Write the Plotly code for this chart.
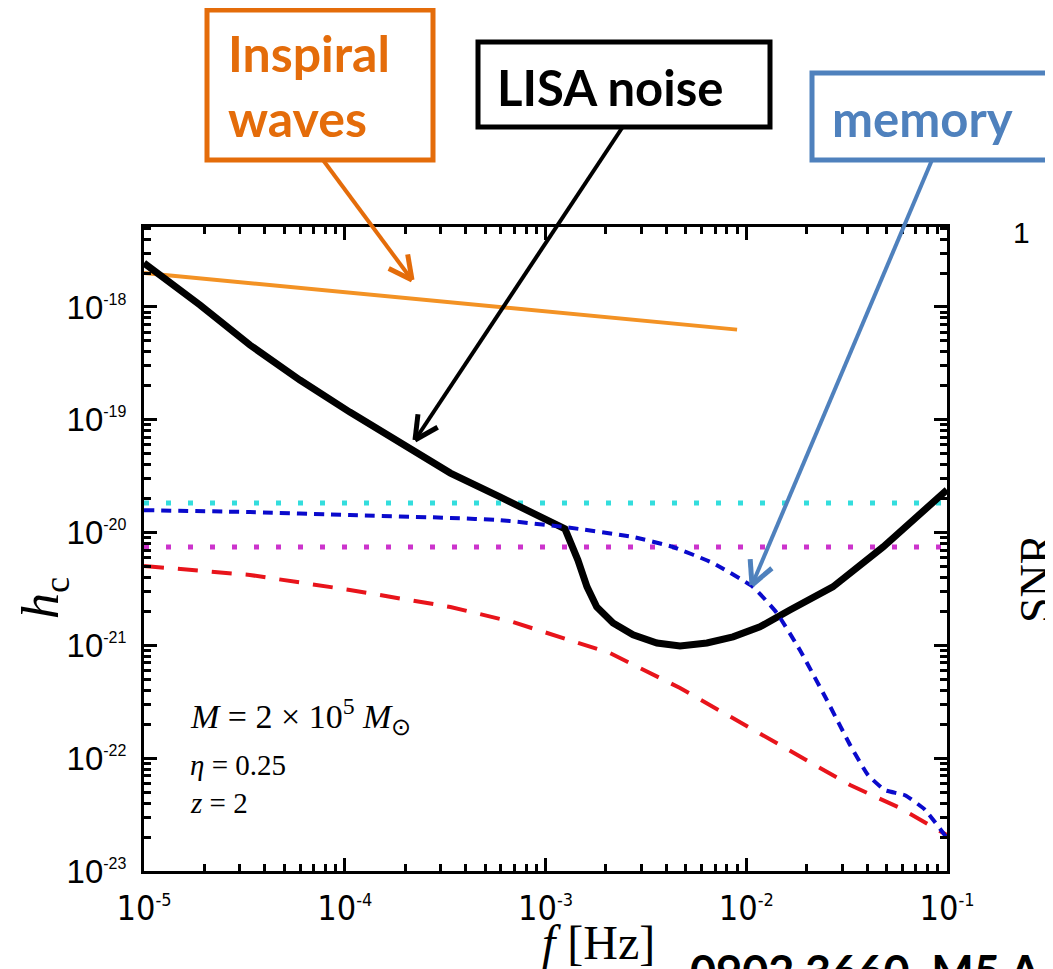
import math
import plotly.graph_objects as go

# ---------------- data ----------------
inspiral_f = [1e-5, 9e-3]
inspiral_hc = [2.0e-18, 6.3e-19]

noise_f = [1e-5, 1.90e-5, 3.37e-5, 5.98e-5, 1.06e-4, 1.88e-4, 3.36e-4, 5.93e-4, 1.25e-3,
           1.45e-3, 1.61e-3, 1.80e-3, 2.17e-3, 2.73e-3, 3.59e-3, 4.68e-3, 6.37e-3, 8.59e-3,
           1.17e-2, 1.65e-2, 2.70e-2, 4.80e-2, 0.1]
noise_hc = [2.45e-18, 1.04e-18, 4.60e-19, 2.25e-19, 1.17e-19, 6.22e-20, 3.37e-20, 2.07e-20, 1.08e-20,
            5.71e-21, 3.30e-21, 2.19e-21, 1.58e-21, 1.24e-21, 1.05e-21, 9.9e-22, 1.05e-21, 1.19e-21,
            1.46e-21, 2.06e-21, 3.30e-21, 7.45e-21, 2.39e-20]

memory_f = [1e-5, 3.37e-5, 1.06e-4, 3.36e-4, 5.93e-4, 1.25e-3, 2.73e-3, 4.32e-3, 6.82e-3, 1.08e-2,
            1.42e-2, 1.85e-2, 2.52e-2, 3.29e-2, 4.04e-2, 4.91e-2, 6.18e-2, 7.76e-2, 0.1]
memory_hc = [1.58e-20, 1.52e-20, 1.43e-20, 1.35e-20, 1.29e-20, 1.12e-20, 9.14e-21, 7.45e-21, 5.37e-21, 3.30e-21,
             1.94e-21, 9.1e-22, 3.28e-22, 1.31e-22, 7.1e-23, 5.2e-23, 4.7e-23, 3.5e-23, 1.96e-23]

red_f = [1e-5, 3.37e-5, 1.06e-4, 3.36e-4, 6.89e-4, 1.28e-3, 2.09e-3, 4.68e-3, 1.04e-2, 1.85e-2, 3.29e-2, 5.83e-2, 0.1]
red_hc = [5.06e-21, 4.21e-21, 3.10e-21, 2.19e-21, 1.61e-21, 1.12e-21, 8.57e-22, 4.19e-22, 1.85e-22, 1.03e-22,
          5.78e-23, 3.62e-23, 2.08e-23]

cyan_f = [1e-5, 0.1]
cyan_hc = [1.83e-20, 1.83e-20]
magenta_f = [1e-5, 0.1]
magenta_hc = [7.45e-21, 7.45e-21]

ytick_vals = [1e-23, 1e-22, 1e-21, 1e-20, 1e-19, 1e-18]
ytick_exp = ["-23", "-22", "-21", "-20", "-19", "-18"]
xtick_vals = [1e-5, 1e-4, 1e-3, 1e-2, 1e-1]
xtick_exp = ["-5", "-4", "-3", "-2", "-1"]
minor_digits = [2, 3, 4, 5, 6, 7, 8, 9]

# ---------------- layout geometry (page pixels) ----------------
OFF = 8                      # default body margin of the html page
PW, PH = 1053, 969
W, H = PW - OFF, PH - OFF
L, R, T, B = 144, 947, 227, 871


def pp(x, y):
    return (x - L) / (R - L), (B - y) / (B - T)


def sup_labels(exps, size):
    return ["10<sup><span style='font-size:%dpx'>%s</span></sup>" % (size, e) for e in exps]


fig = go.Figure()
fig.add_trace(go.Scatter(x=cyan_f, y=cyan_hc, mode="lines",
                         line=dict(color="#33DDDD", width=5, dash="5px,17px")))
fig.add_trace(go.Scatter(x=magenta_f, y=magenta_hc, mode="lines",
                         line=dict(color="#CC33CC", width=5, dash="5px,17px")))
fig.add_trace(go.Scatter(x=red_f, y=red_hc, mode="lines",
                         line=dict(color="#E8141B", width=4, dash="20px,14px")))
fig.add_trace(go.Scatter(x=inspiral_f, y=inspiral_hc, mode="lines",
                         line=dict(color="#F39224", width=4)))
fig.add_trace(go.Scatter(x=noise_f, y=noise_hc, mode="lines",
                         line=dict(color="black", width=7)))
fig.add_trace(go.Scatter(x=memory_f, y=memory_hc, mode="lines",
                         line=dict(color="#0A0ACC", width=4, dash="10px,7px", shape="spline", smoothing=0.4)))


def minor_vals(lo, hi):
    return [d * 10.0 ** e for e in range(lo, hi) for d in minor_digits]


axis_common = dict(
    type="log", showline=True, linewidth=3, linecolor="black", mirror="allticks",
    ticks="inside", ticklen=13, tickwidth=2.5, tickcolor="black",
    showgrid=False, zeroline=False,
)

fig.update_xaxes(range=[-5, -1], tickvals=xtick_vals, ticktext=sup_labels(xtick_exp, 18), ticklabelstandoff=5,
                 tickfont=dict(family="Liberation Sans Narrow, DejaVu Sans Condensed, Arial", size=34, color="black"),
                 minor=dict(tickvals=minor_vals(-5, -1), ticks="inside", ticklen=7, tickwidth=2.5,
                            tickcolor="black", showgrid=False),
                 **axis_common)
fig.update_yaxes(range=[-23, -23 + (B - T) * 0.008865], tickvals=ytick_vals, ticktext=sup_labels(ytick_exp, 16),
                 ticklabelstandoff=8,
                 tickfont=dict(family="Liberation Sans, Arial", size=33, color="black"),
                 minor=dict(tickvals=minor_vals(-23, -17), ticks="inside", ticklen=7, tickwidth=2.5,
                            tickcolor="black", showgrid=False),
                 **axis_common)

shapes = []
annotations = []


def rect(x0, y0, x1, y1, color, w=4):
    a = pp(x0, y0)
    b = pp(x1, y1)
    shapes.append(dict(type="rect", xref="paper", yref="paper", x0=a[0], y0=a[1], x1=b[0], y1=b[1],
                       line=dict(color=color, width=w), fillcolor="white", layer="above"))


def arrow(tx, ty, hx, hy, color, width=4, head=26, ang=27):
    a = pp(tx, ty)
    b = pp(hx, hy)
    shapes.append(dict(type="line", xref="paper", yref="paper", x0=a[0], y0=a[1], x1=b[0], y1=b[1],
                       line=dict(color=color, width=width), layer="above"))
    d = math.atan2(ty - hy, tx - hx)
    for s in (-1, 1):
        th = d + s * math.radians(ang)
        ex, ey = hx + head * math.cos(th), hy + head * math.sin(th)
        c = pp(ex, ey)
        shapes.append(dict(type="line", xref="paper", yref="paper", x0=b[0], y0=b[1], x1=c[0], y1=c[1],
                           line=dict(color=color, width=width + 1), layer="above"))


def text(x, y, s, size, color="black", family="Lato", xanchor="center", yanchor="middle", angle=0, align="center"):
    p = pp(x, y)
    annotations.append(dict(x=p[0], y=p[1], xref="paper", yref="paper", text=s, showarrow=False,
                            font=dict(family=family, size=size, color=color), xanchor=xanchor,
                            yanchor=yanchor, textangle=angle, align=align))


ORANGE = "#E46C0A"
BLUE = "#4F81BD"
serif = "Liberation Serif, Times New Roman"

arrow(323, 160, 412, 280, ORANGE)
arrow(622, 128, 415, 440, "black")
arrow(932, 160, 752, 585, BLUE)

rect(207, 10, 433, 160, ORANGE, 5)
rect(478, 42, 770, 127, "black", 5)
rect(812, 73, 1075, 160, BLUE, 5)

text(226, 86, "<b>Inspiral</b><br><b>waves</b>", 50, ORANGE, xanchor="left", align="left")
text(610, 87, "<b>LISA noise</b>", 49, "black")
text(830, 118, "<b>memory</b>", 49, BLUE, xanchor="left")

# axis titles
text(44, 598, "<i>h</i><sub>c</sub>", 52, family=serif, angle=-90)
text(598, 942, "<i>f</i> [Hz]", 48, family=serif)

# inset parameter text
text(188, 716, "<i>M</i> = 2 × 10<sup>5</sup>&nbsp;<i>M</i><sub>⊙</sub>", 34,
     family=serif, xanchor="left")
text(188, 765, "<i>η</i> = 0.25", 29, family=serif, xanchor="left")
text(188, 803, "<i>z</i> = 2", 29, family=serif, xanchor="left")

# neighbouring slide content cut at the edges
text(1011, 233, "1", 30, family="Liberation Sans, Arial", xanchor="left")
text(1036, 578, "SNR", 46, family=serif, angle=-90)
text(688, 942, "<b>0902.3660&nbsp; M5 A</b>", 45, family="Lato", xanchor="left", yanchor="top")

fig.update_layout(
    width=W, height=H,
    margin=dict(l=L - OFF, r=PW - R, t=T - OFF, b=PH - B, autoexpand=False),
    paper_bgcolor="white", plot_bgcolor="white",
    showlegend=False,
    shapes=shapes, annotations=annotations,
)

fig.write_html("out.html")
